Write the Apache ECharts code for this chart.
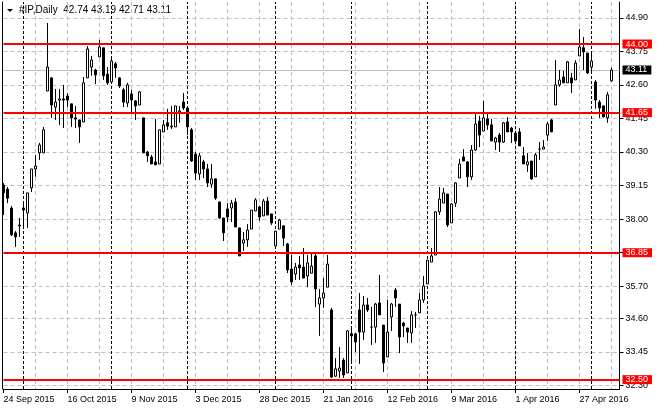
<!DOCTYPE html>
<html>
<head>
<meta charset="utf-8">
<script src="https://cdn.jsdelivr.net/npm/echarts@6.0.0/dist/echarts.min.js"></script>
<style>
html, body { margin: 0; padding: 0; background: #fff; }
#chart { width: 660px; height: 410px; }
</style>
</head>
<body>
<div id="chart"></div>
<script>
// #IP daily bars, 24 Sep 2015 .. 9 May 2016
var opens = [
  39.17, 39.03, 38.38, 37.53, 37.80, 38.38, 38.21, 39.07, 39.72, 40.27,
  40.27, 42.39, 42.84, 41.84, 42.08, 42.12, 42.22, 41.95, 41.47, 41.40,
  41.33, 42.84, 43.21, 43.11, 43.56, 43.87, 42.97, 42.70, 43.32, 42.84,
  42.43, 41.98, 42.29, 42.05, 41.91, 41.47, 40.30, 40.13, 39.96, 39.89,
  40.99, 41.30, 41.16, 41.16, 41.67, 42.01, 41.81, 41.06, 40.23, 39.55,
  39.96, 39.72, 39.20, 39.38, 38.59, 38.04, 38.35, 38.38, 38.59, 37.70,
  37.18, 37.29, 37.66, 38.28, 38.42, 38.11, 38.62, 38.18, 37.08, 37.66,
  37.77, 37.15, 36.29, 36.12, 36.43, 36.36, 36.05, 36.15, 36.74, 35.09,
  35.30, 35.67, 34.89, 32.62, 32.80, 33.17, 32.73, 34.07, 34.07, 34.89,
  34.13, 35.06, 34.30, 34.30, 35.13, 34.37, 33.28, 34.65, 35.57, 35.09,
  34.44, 34.27, 34.10, 34.72, 34.79, 35.23, 35.78, 36.53, 36.77, 38.25,
  38.55, 38.86, 37.87, 38.55, 39.41, 40.13, 39.96, 39.45, 40.37, 41.36,
  41.02, 41.43, 41.23, 40.64, 40.88, 40.64, 41.33, 41.12, 40.95, 40.99,
  40.17, 39.86, 39.99, 39.45, 40.40, 40.40, 40.88, 41.40, 41.91, 42.60,
  42.87, 42.67, 42.84, 42.77, 43.59, 43.87, 43.69, 43.21, 42.70, 42.01,
  41.88, 41.47, 42.74
];
var highs = [
  39.24, 39.10, 38.45, 37.59, 38.04, 38.62, 38.90, 39.72, 40.20, 40.61,
  41.16, 44.72, 42.87, 42.46, 42.46, 42.60, 42.32, 41.95, 41.88, 41.40,
  42.87, 43.93, 43.59, 43.15, 44.14, 43.87, 43.21, 43.52, 43.39, 42.87,
  42.50, 42.67, 42.43, 42.08, 42.39, 41.47, 40.34, 40.20, 41.43, 41.06,
  41.40, 41.78, 41.88, 41.88, 41.88, 42.32, 41.81, 41.12, 40.30, 40.27,
  40.03, 39.89, 39.89, 39.38, 38.59, 38.04, 38.55, 38.66, 38.72, 37.70,
  37.56, 37.83, 38.31, 38.72, 38.45, 38.69, 38.76, 38.18, 37.59, 38.01,
  37.77, 37.18, 36.77, 36.50, 36.74, 37.01, 36.77, 36.81, 36.81, 35.61,
  35.98, 36.77, 34.96, 33.24, 33.62, 33.24, 34.20, 34.31, 34.07, 35.47,
  35.37, 35.30, 34.99, 35.13, 36.09, 34.37, 35.23, 35.13, 35.64, 35.09,
  34.48, 34.27, 34.85, 34.82, 35.47, 36.05, 36.60, 37.01, 38.28, 39.10,
  39.07, 38.86, 38.55, 39.27, 40.06, 40.40, 39.99, 40.54, 41.60, 41.54,
  42.05, 41.67, 41.43, 40.82, 40.95, 41.33, 41.50, 41.16, 40.95, 41.12,
  40.47, 40.27, 39.99, 40.27, 40.64, 40.71, 41.33, 41.43, 43.45, 43.11,
  43.08, 43.42, 43.01, 43.45, 44.52, 44.24, 43.69, 43.69, 42.77, 42.08,
  41.88, 42.36, 43.19
];
var lows = [
  38.14, 38.55, 37.42, 37.05, 37.39, 37.70, 37.70, 38.93, 39.45, 40.03,
  40.27, 42.39, 41.47, 41.40, 41.23, 41.12, 41.84, 41.16, 41.12, 40.61,
  41.33, 42.84, 42.91, 42.63, 43.56, 42.77, 42.60, 42.67, 42.84, 42.49,
  41.84, 41.84, 41.67, 41.40, 41.91, 40.27, 39.96, 39.89, 39.86, 39.89,
  40.99, 41.06, 41.09, 41.16, 41.30, 41.74, 40.88, 39.96, 39.34, 39.34,
  39.41, 39.10, 39.07, 38.66, 38.01, 37.25, 37.90, 37.90, 37.73, 36.74,
  36.91, 37.05, 37.66, 38.28, 37.94, 38.11, 38.14, 37.80, 37.08, 37.66,
  37.08, 36.15, 35.74, 35.92, 35.92, 35.98, 35.67, 36.15, 34.99, 34.00,
  34.96, 35.67, 32.56, 32.59, 32.56, 32.56, 32.73, 33.07, 33.45, 33.04,
  33.86, 34.82, 33.69, 33.76, 34.72, 32.76, 33.28, 34.17, 34.99, 33.41,
  33.96, 33.76, 33.76, 34.27, 34.79, 35.13, 35.78, 36.53, 36.77, 38.14,
  38.55, 37.73, 37.87, 38.42, 39.41, 39.99, 39.10, 39.34, 40.34, 40.47,
  41.02, 41.06, 40.68, 40.37, 40.30, 40.61, 40.99, 40.61, 40.61, 40.51,
  39.89, 39.62, 39.34, 39.45, 40.03, 40.40, 40.68, 40.99, 41.91, 42.53,
  42.67, 42.67, 42.32, 42.77, 43.59, 43.11, 42.97, 43.01, 41.78, 41.47,
  41.50, 41.30, 42.71
];
var closes = [
  38.90, 38.72, 37.46, 37.39, 37.77, 38.31, 38.90, 39.72, 39.82, 40.54,
  41.06, 43.21, 41.91, 42.01, 42.12, 42.08, 42.08, 41.47, 41.43, 41.16,
  42.67, 43.83, 43.45, 42.94, 43.90, 42.91, 42.67, 43.42, 43.18, 42.56,
  42.01, 42.60, 42.08, 41.88, 42.36, 40.27, 40.17, 39.89, 39.86, 41.06,
  41.23, 41.19, 41.19, 41.88, 41.71, 41.81, 41.16, 39.99, 39.58, 40.17,
  39.72, 39.24, 39.38, 38.72, 38.04, 37.53, 38.07, 38.55, 37.73, 36.74,
  37.29, 37.63, 38.31, 38.66, 38.07, 38.62, 38.14, 37.87, 37.59, 37.97,
  37.35, 36.26, 35.85, 36.36, 36.33, 35.98, 36.50, 36.39, 35.61, 35.30,
  35.47, 36.46, 32.59, 32.87, 32.90, 32.66, 34.17, 34.00, 33.79, 34.13,
  35.06, 34.89, 34.30, 35.09, 34.72, 33.07, 34.13, 35.09, 35.30, 33.96,
  34.34, 34.13, 34.72, 34.72, 35.23, 35.71, 36.60, 36.74, 38.25, 38.69,
  38.90, 37.80, 38.52, 39.24, 39.89, 39.99, 39.45, 40.37, 41.26, 40.88,
  41.47, 41.23, 40.68, 40.78, 40.64, 41.30, 40.99, 40.99, 40.68, 40.51,
  39.89, 39.96, 39.38, 40.20, 40.40, 40.47, 41.26, 40.99, 42.60, 42.77,
  42.67, 43.39, 42.67, 43.35, 43.90, 43.73, 43.01, 43.42, 42.08, 41.81,
  41.50, 42.26, 43.11
];

// one time-scale label every 16 bars, starting at bar 0
var tickLabels = ['24 Sep 2015', '16 Oct 2015', '9 Nov 2015', '3 Dec 2015', '28 Dec 2015',
                  '21 Jan 2016', '12 Feb 2016', '9 Mar 2016', '1 Apr 2016', '27 Apr 2016'];
var priceTicks = [44.90, 43.75, 42.60, 41.45, 40.30, 39.15, 38.00, 36.85, 35.70, 34.60, 33.45, 32.30];
var levels = [44.00, 41.65, 36.85, 32.50];
var monthStarts = [5, 27, 46, 68, 87, 106, 128, 147];   // bar index of each month's first bar
var priceMin = 32.18, priceMax = 45.44;
var shiftBars = 2;   // empty space right of the last bar

var last = opens.length - 1;
var categories = [];
for (var i = 0; i < opens.length + shiftBars; i++) categories.push(String(i));
var ohlc = opens.map(function (o, i) { return [o, closes[i], lows[i], highs[i]]; });

var font = 'Liberation Sans, Arial, sans-serif';
var chart = echarts.init(document.getElementById('chart'), null, { renderer: 'canvas' });

chart.setOption({
  animation: false,
  backgroundColor: '#ffffff',
  grid: { left: 3.5, right: 40.5, top: 2, bottom: 21, containLabel: false },
  xAxis: {
    type: 'category',
    data: categories,
    boundaryGap: false,
    axisLine: { lineStyle: { color: '#000', width: 1 } },
    axisTick: {
      interval: function (i) { return i % 16 === 0 && i / 16 < tickLabels.length; },
      length: 4, lineStyle: { color: '#000' }
    },
    axisLabel: {
      interval: function (i) { return i % 16 === 0 && i / 16 < tickLabels.length; },
      formatter: function (v, i) { return tickLabels[i / 16] || ''; },
      align: 'left', margin: 6, color: '#000', fontSize: 9, fontFamily: font
    },
    splitLine: {
      show: true,
      interval: function (i) { return i > 0 && i % 8 === 0 && i <= last; },
      lineStyle: { color: '#c0c0c0', type: [4, 3], width: 1 }
    }
  },
  yAxis: [{
    type: 'value',
    position: 'right',
    min: priceMin, max: priceMax,
    axisLine: { show: true, lineStyle: { color: '#000', width: 1 } },
    axisTick: { show: true, customValues: priceTicks, length: 4, lineStyle: { color: '#000' } },
    axisLabel: {
      customValues: priceTicks,
      formatter: function (v) { return v.toFixed(2); },
      margin: 6, color: '#000', fontSize: 9, fontFamily: font
    },
    splitLine: { show: false }
  }, {
    type: 'value',
    position: 'left',
    offset: 1.5,
    min: priceMin, max: priceMax,
    axisLine: { show: true, lineStyle: { color: '#000', width: 1 } },
    axisTick: { show: false },
    axisLabel: { show: false },
    splitLine: { show: false }
  }],
  graphic: [
    { type: 'polygon', shape: { points: [[7, 9], [13, 9], [10, 12]] }, style: { fill: '#000' } },
    {
      type: 'text', left: 19, top: 5,
      style: {
        text: '#IP,Daily  ' + [opens[last], highs[last], lows[last], closes[last]].map(function (v) { return v.toFixed(2); }).join(' '),
        font: '10px ' + font, fill: '#000'
      }
    }
  ],
  series: [
    {
      // background grid, month separators and bid line
      type: 'line', data: [], xAxisIndex: 0, yAxisIndex: 0, silent: true,
      markLine: {
        z: 1, silent: true, symbol: ['none', 'none'], animation: false,
        label: { show: false },
        data: priceTicks.map(function (v) {
          return { yAxis: v, lineStyle: { color: '#c0c0c0', type: [4, 3], width: 1 } };
        }).concat(monthStarts.map(function (b) {
          return { xAxis: b, lineStyle: { color: '#000', type: [3, 2], width: 1 } };
        })).concat([{
          yAxis: closes[last],
          lineStyle: { color: '#c0c0c0', type: 'solid', width: 1 },
          label: {
            show: true, position: 'end', distance: 3,
            formatter: function (p) { return p.value.toFixed(2); },
            color: '#fff', backgroundColor: '#000', fontSize: 9, fontFamily: font,
            lineHeight: 9, padding: [0, 4, 0, 3]
          }
        }])
      }
    },
    {
      type: 'candlestick',
      data: ohlc,
      xAxisIndex: 0, yAxisIndex: 0,
      z: 2, clip: false, barWidth: 2,
      itemStyle: {
        color: '#ffffff', color0: '#000000',
        borderColor: '#000000', borderColor0: '#000000', borderWidth: 1
      }
    },
    {
      // support / resistance levels
      type: 'line', data: [], xAxisIndex: 0, yAxisIndex: 0, silent: true,
      markLine: {
        z: 5, silent: true, symbol: ['none', 'none'], animation: false,
        lineStyle: { color: '#ff0000', type: 'solid', width: 2 },
        label: {
          show: true, position: 'end', distance: 3,
          formatter: function (p) { return p.value.toFixed(2); },
          color: '#fff', backgroundColor: '#ff0000', fontSize: 9, fontFamily: font,
          lineHeight: 9, padding: [0, 4, 0, 3]
        },
        data: levels.map(function (v) { return { yAxis: v }; })
      }
    }
  ]
});
</script>
</body>
</html>
